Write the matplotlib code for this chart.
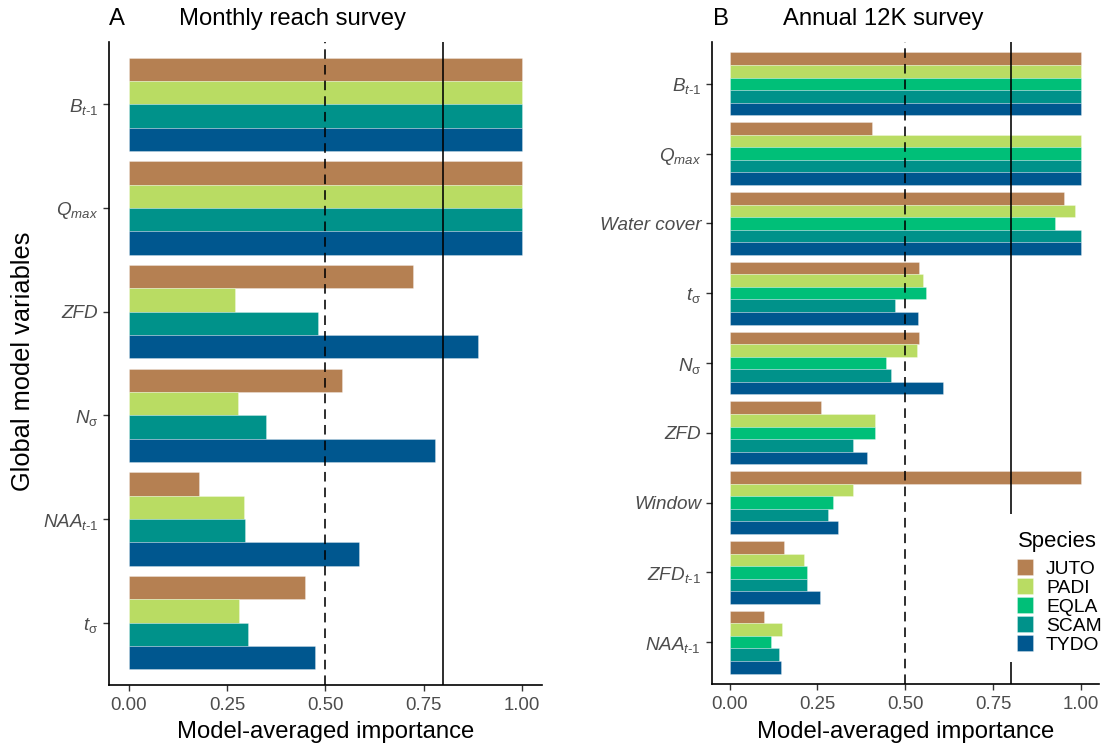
import matplotlib
matplotlib.use("Agg")
import matplotlib.pyplot as plt
from matplotlib.patches import Rectangle
import numpy as np

plt.rcParams["font.family"] = ["Liberation Sans", "DejaVu Sans"]
plt.rcParams["mathtext.fontset"] = "custom"
plt.rcParams["mathtext.rm"] = "Liberation Sans"
plt.rcParams["mathtext.it"] = "Liberation Sans:italic"
plt.rcParams["mathtext.sf"] = "Liberation Sans"
plt.rcParams["mathtext.bf"] = "Liberation Sans:bold"

# ---- data -------------------------------------------------------------
species_colors = {
    "JUTO": "#B58052",
    "PADI": "#B9DC63",
    "EQLA": "#00BF78",
    "SCAM": "#00928A",
    "TYDO": "#00578F",
}

# Panel A: monthly reach survey (top to bottom)
vars_a = [r"$\mathit{B}_{\mathit{t}\text{-}\mathit{1}}$", r"$\mathit{Q}_{\mathit{max}}$", "ZFD",
          r"$\mathit{N}_{\mathrm{\sigma}}$", r"$\mathit{NAA}_{\mathit{t}\text{-}\mathit{1}}$",
          r"$\mathit{t}_{\mathrm{\sigma}}$"]
species_a = ["JUTO", "PADI", "SCAM", "TYDO"]
juto_a = [1.00, 1.00, 0.722, 0.541, 0.177, 0.449]
padi_a = [1.00, 1.00, 0.270, 0.277, 0.292, 0.281]
scam_a = [1.00, 1.00, 0.480, 0.348, 0.296, 0.303]
tydo_a = [1.00, 1.00, 0.889, 0.779, 0.585, 0.474]

# Panel B: annual 12K survey (top to bottom)
vars_b = [r"$\mathit{B}_{\mathit{t}\text{-}\mathit{1}}$", r"$\mathit{Q}_{\mathit{max}}$", "Water cover",
          r"$\mathit{t}_{\mathrm{\sigma}}$", r"$\mathit{N}_{\mathrm{\sigma}}$", "ZFD",
          "Window", r"$\mathit{ZFD}_{\mathit{t}\text{-}\mathit{1}}$",
          r"$\mathit{NAA}_{\mathit{t}\text{-}\mathit{1}}$"]
species_b = ["JUTO", "PADI", "EQLA", "SCAM", "TYDO"]
juto_b = [1.00, 0.406, 0.952, 0.539, 0.539, 0.260, 1.000, 0.156, 0.099]
padi_b = [1.00, 1.000, 0.984, 0.551, 0.533, 0.415, 0.350, 0.213, 0.150]
eqla_b = [1.00, 1.000, 0.926, 0.558, 0.446, 0.415, 0.294, 0.219, 0.119]
scam_b = [1.00, 1.000, 1.000, 0.471, 0.459, 0.350, 0.279, 0.221, 0.141]
tydo_b = [1.00, 1.000, 1.000, 0.537, 0.606, 0.391, 0.309, 0.258, 0.146]

x_ticks = [0.0, 0.25, 0.5, 0.75, 1.0]
x_ticklabels = ["0.00", "0.25", "0.50", "0.75", "1.00"]
dashed_ref = 0.5
solid_ref = 0.8

# ---- figure -----------------------------------------------------------
W, H = 1109, 748
fig = plt.figure(figsize=(W / 100, H / 100), dpi=100)
fig.patch.set_facecolor("white")

TICK_FS = 13.4
LABEL_FS = 17.2
TICK_COLOR = "#4D4D4D"


def fx(x):
    return x / W


def fy(y):
    return 1 - y / H


def px_box(left, top, right, bottom):
    return [fx(left), fy(bottom), (right - left) / W, (bottom - top) / H]


def draw_panel(ax, labels, species, series):
    n = len(labels)
    k = len(species)
    w = 0.9 / k
    y = np.arange(n)
    for j, (sp, vals) in enumerate(zip(species, series)):
        ax.barh(y - 0.45 + (j + 0.5) * w, vals, height=w,
                color=species_colors[sp], edgecolor=(1, 1, 1, 0.4),
                linewidth=0.5, zorder=2, label=sp)
    ax.set_ylim(n - 0.4, -0.6)
    ax.set_xlim(-0.05, 1.05)
    ax.set_yticks(y)
    ax.set_yticklabels(labels, fontsize=TICK_FS + 0.2, fontstyle="italic", color=TICK_COLOR)
    ax.set_xticks(x_ticks)
    ax.set_xticklabels(x_ticklabels, fontsize=TICK_FS, color=TICK_COLOR)
    ax.axvline(dashed_ref, color="black", lw=1.15, ls=(0, (6.0, 3.8)), zorder=3)
    ax.axvline(solid_ref, color="black", lw=1.15, zorder=3)
    for s in ("top", "right"):
        ax.spines[s].set_visible(False)
    for s in ("left", "bottom"):
        ax.spines[s].set_linewidth(1.2)
        ax.spines[s].set_color("black")
    ax.tick_params(axis="both", length=4.1, width=1.0, color="#333333")
    ax.tick_params(axis="x", pad=4.7)
    ax.tick_params(axis="y", pad=3.7)
    ax.set_xlabel("Model-averaged importance", fontsize=LABEL_FS)
    ax.xaxis.label.set_verticalalignment("baseline")


ax_a = fig.add_axes(px_box(109.3, 42, 541.6, 685))
draw_panel(ax_a, vars_a, species_a, [juto_a, padi_a, scam_a, tydo_a])
ax_a.xaxis.set_label_coords(0.5, -(738.3 - 685) / (685 - 42))

ax_b = fig.add_axes(px_box(712, 42, 1098.6, 684))
draw_panel(ax_b, vars_b, species_b, [juto_b, padi_b, eqla_b, scam_b, tydo_b])
ax_b.xaxis.set_label_coords(0.5, -(738.3 - 684) / (684 - 42))

# ---- species key, drawn inside panel B over the reference lines ----------
fig.add_artist(Rectangle((fx(1006), fy(662)), (1100 - 1006) / W, (662 - 514) / H,
                         transform=fig.transFigure, facecolor="white",
                         edgecolor="none", zorder=5))
fig.text(fx(1017.5), fy(546.7), "Species", fontsize=15.9, ha="left",
         va="baseline", zorder=6)
key_top, key_step, key_h, key_w = 559.3, 18.9, 15.8, 16.0
for i, sp in enumerate(species_b):
    top = key_top + i * key_step
    fig.add_artist(Rectangle((fx(1017.3), fy(top + key_h)), key_w / W, key_h / H,
                             transform=fig.transFigure,
                             facecolor=species_colors[sp],
                             edgecolor=(1, 1, 1, 0.4), linewidth=0.5, zorder=6))
    fig.text(fx(1046.0), fy(top + 14.7), sp, fontsize=13.9, ha="left",
             va="baseline", zorder=6)

# ---- panel titles -------------------------------------------------------
fig.text(fx(109), fy(25), "A", fontsize=LABEL_FS, va="baseline", ha="left")
fig.text(fx(178.6), fy(25), "Monthly reach survey", fontsize=LABEL_FS,
         va="baseline", ha="left")
fig.text(fx(713), fy(25), "B", fontsize=LABEL_FS, va="baseline", ha="left")
fig.text(fx(782.7), fy(25), "Annual 12K survey", fontsize=LABEL_FS,
         va="baseline", ha="left")

# shared y-axis title
fig.text(fx(23), fy(361), "Global model variables", fontsize=18.3,
         rotation=90, va="center", ha="center")

fig.savefig("out.png", dpi=100, facecolor="white")
